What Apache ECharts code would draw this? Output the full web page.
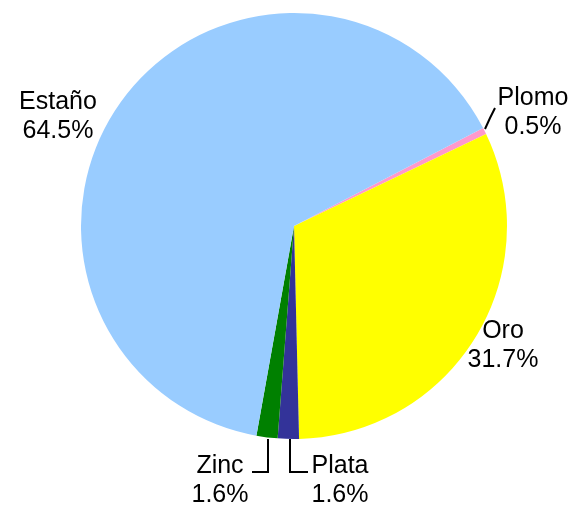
<!DOCTYPE html>
<html>
<head>
<meta charset="utf-8">
<script src="https://cdn.jsdelivr.net/npm/echarts@6/dist/echarts.min.js"></script>
<style>
  html, body { margin: 0; padding: 0; background: #fff; }
  #main { width: 577px; height: 506px; }
</style>
</head>
<body>
<div id="main"></div>
<script>
// datos del grafico
var categorias = ['Plomo', 'Oro', 'Plata', 'Zinc', 'Estaño'];
var valores = [0.5, 31.7, 1.6, 1.6, 64.5];
var etiquetas = ['0.5%', '31.7%', '1.6%', '1.6%', '64.5%'];
var colores = ['#FF99CC', '#FFFF00', '#333399', '#008000', '#99CCFF'];

// posicion de las etiquetas (como en el original)
var posEtiquetas = {
  0: { x: 533, y: 113, linea: [[485, 129], [490, 118], [495, 108]] },
  1: { x: 503, y: 346 },
  2: { x: 340, y: 481, linea: [[290, 439], [290, 472], [308, 472]] },
  3: { x: 220, y: 481, linea: [[268, 439], [268, 472], [252, 472]] },
  4: { x: 58, y: 117 }
};

var datos = [];
for (var i = 0; i < categorias.length; i++) {
  datos.push({
    name: categorias[i],
    value: valores[i],
    itemStyle: { color: colores[i] },
    labelLine: { show: !!posEtiquetas[i].linea }
  });
}

var myChart = echarts.init(document.getElementById('main'));
myChart.setOption({
  backgroundColor: '#ffffff',
  animation: false,
  series: [{
    type: 'pie',
    center: [294, 226],
    radius: 213,
    startAngle: 27.4,
    clockwise: true,
    avoidLabelOverlap: false,
    data: datos,
    label: {
      show: true,
      position: 'outside',
      color: '#000',
      fontFamily: 'Liberation Sans, Arial, sans-serif',
      fontSize: 25,
      lineHeight: 29,
      align: 'center',
      formatter: function (p) {
        return p.name + '\n' + etiquetas[p.dataIndex];
      }
    },
    labelLine: {
      show: true,
      lineStyle: { color: '#000', width: 2 }
    },
    emphasis: { disabled: true },
    labelLayout: function (params) {
      var p = posEtiquetas[params.dataIndex];
      var r = {
        x: p.x,
        y: p.y,
        align: 'center',
        verticalAlign: 'middle'
      };
      if (p.linea) r.labelLinePoints = p.linea;
      return r;
    }
  }]
});
</script>
</body>
</html>
